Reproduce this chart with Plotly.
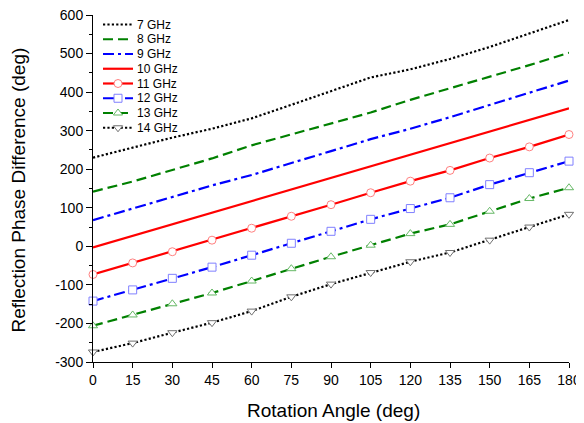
import plotly.graph_objects as go

angles = [0, 15, 30, 45, 60, 75, 90, 105, 120, 135, 150, 165, 180]

ghz7 = [230, 256, 282, 305, 332, 367, 402, 438, 459, 486, 517, 552, 587]
ghz8 = [142, 168, 198, 228, 262, 291, 320, 347, 380, 410, 439, 470, 502]
ghz9 = [68, 98, 127, 158, 185, 215, 247, 278, 305, 335, 366, 397, 430]
ghz10 = [-3, 27, 57, 87, 117, 147, 176, 206, 236, 266, 297, 327, 358]
ghz11 = [-73, -43, -14, 16, 47, 78, 108, 139, 169, 197, 229, 258, 290]
ghz12 = [-142, -113, -83, -54, -23, 8, 39, 70, 98, 126, 160, 191, 221]
ghz13 = [-206, -178, -149, -121, -90, -58, -27, 3, 33, 57, 91, 124, 152]
ghz14 = [-274, -251, -224, -198, -168, -131, -98, -68, -40, -16, 16, 50, 83]

names = ["7 GHz", "8 GHz", "9 GHz", "10 GHz", "11 GHz", "12 GHz", "13 GHz", "14 GHz"]
x_ticks = angles
y_ticks = [-300, -200, -100, 0, 100, 200, 300, 400, 500, 600]

FONT = "Arial, Liberation Sans, sans-serif"
DOT = "2.2px,2.2px"
DASH = "10px,5px"
DASHDOT = "11px,4px,3px,4px"
LW = 2.2

styles = [
    dict(color="#000000", dash=DOT, sym=None, mc=None),
    dict(color="#008000", dash=DASH, sym=None, mc=None),
    dict(color="#0000ff", dash=DASHDOT, sym=None, mc=None),
    dict(color="#ff0000", dash="solid", sym=None, mc=None),
    dict(color="#ff0000", dash="solid", sym="circle", mc="#ff8080"),
    dict(color="#0000ff", dash=DASHDOT, sym="square", mc="#8080ff"),
    dict(color="#008000", dash=DASH, sym="triangle-up", mc="#66b866"),
    dict(color="#000000", dash=DOT, sym="triangle-down", mc="#707070"),
]
series = [ghz7, ghz8, ghz9, ghz10, ghz11, ghz12, ghz13, ghz14]

# page geometry: the html body has an 8px margin, so the figure sits at (8, 8)
OFF = 8
PAGE_W, PAGE_H = 584, 423
PX0, PX1 = 93, 569   # plot area on the page (x)
PY0, PY1 = 15, 362   # plot area on the page (y)
W, H = PAGE_W - OFF, PAGE_H - OFF
L, T = PX0 - OFF, PY0 - OFF
R, B = W - (PX1 - OFF), H - (PY1 - OFF)

fig = go.Figure()
for name, ys, st in zip(names, series, styles):
    if st["sym"]:
        kw = dict(mode="lines+markers",
                  marker=dict(symbol=st["sym"], size=8, color="white",
                              line=dict(color=st["mc"], width=1)))
    else:
        kw = dict(mode="lines")
    fig.add_trace(go.Scatter(x=angles, y=ys, name=name, showlegend=False,
                             line=dict(color=st["color"], width=LW, dash=st["dash"]),
                             cliponaxis=False, **kw))

# compact legend drawn on an overlaid, pixel-scaled axis pair
row0, rowgap = 24.5, 14.75
lx0, lx1, tx = 103, 133, 135
for i, (name, st) in enumerate(zip(names, styles)):
    yy = row0 + i * rowgap
    fig.add_trace(go.Scatter(x=[lx0, lx1], y=[yy, yy], mode="lines", xaxis="x2", yaxis="y2",
                             showlegend=False, hoverinfo="skip",
                             line=dict(color=st["color"], width=LW, dash=st["dash"])))
    if st["sym"]:
        fig.add_trace(go.Scatter(x=[(lx0 + lx1) / 2], y=[yy], mode="markers", xaxis="x2", yaxis="y2",
                                 showlegend=False, hoverinfo="skip",
                                 marker=dict(symbol=st["sym"], size=8, color="white",
                                             line=dict(color=st["mc"], width=1))))
    fig.add_annotation(x=tx, y=yy, xref="x2", yref="y2", text=name, showarrow=False,
                       xanchor="left", yanchor="middle", font=dict(size=12, family=FONT, color="black"))

# axis titles
fig.add_annotation(x=(17.5 - PX0) / (PX1 - PX0), y=(PY1 - 190) / (PY1 - PY0), xref="paper", yref="paper",
                   text="Reflection Phase Difference (deg)", textangle=-90, showarrow=False,
                   xanchor="center", yanchor="middle", font=dict(size=19, family=FONT, color="black"))
fig.add_annotation(x=(333 - PX0) / (PX1 - PX0), y=(PY1 - 410) / (PY1 - PY0), xref="paper", yref="paper",
                   text="Rotation Angle (deg)", showarrow=False,
                   xanchor="center", yanchor="middle", font=dict(size=19, family=FONT, color="black"))

fig.update_layout(
    width=W, height=H,
    margin=dict(l=L, r=R, t=T, b=B),
    paper_bgcolor="white", plot_bgcolor="rgba(0,0,0,0)",
    font=dict(family=FONT, color="#000000"),
    showlegend=False,
    xaxis=dict(range=[0, 180], tickvals=x_ticks, ticktext=[str(v) for v in x_ticks],
               showgrid=False, zeroline=False, showline=True, linecolor="black",
               linewidth=1, ticks="outside", ticklen=5, tickcolor="black",
               tickfont=dict(size=14, family=FONT), automargin=False,
               ticklabeloverflow="allow"),
    yaxis=dict(range=[-300, 600], tickvals=y_ticks, ticktext=[str(v) for v in y_ticks],
               showgrid=False, zeroline=False, showline=True, linecolor="black",
               linewidth=1, ticks="outside", ticklen=6, tickcolor="black",
               tickfont=dict(size=14, family=FONT), automargin=False,
               ticklabeloverflow="allow",
               minor=dict(dtick=50, tick0=0, ticks="outside", ticklen=3, tickcolor="black", showgrid=False)),
    xaxis2=dict(overlaying="x", anchor="y2", range=[PX0, PX1], visible=False, fixedrange=True),
    yaxis2=dict(overlaying="y", anchor="x2", range=[PY1, PY0], visible=False, fixedrange=True),
)

fig.write_html("out.html")
